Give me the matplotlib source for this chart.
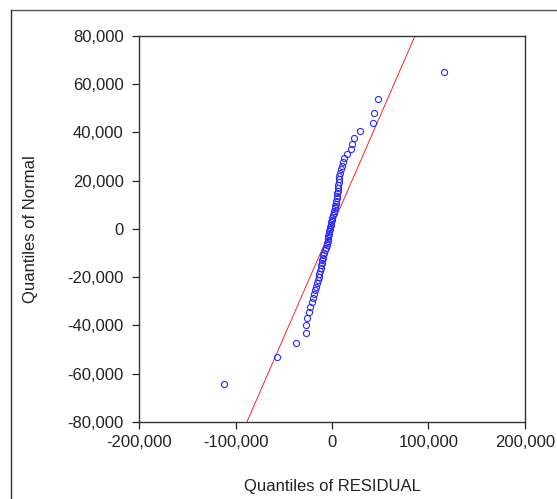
import matplotlib
matplotlib.use("Agg")
import matplotlib.pyplot as plt
from matplotlib.lines import Line2D
from matplotlib.ticker import FuncFormatter

plt.rcParams['font.family'] = ['Liberation Sans', 'DejaVu Sans']

# sorted residuals (x) and matching normal quantiles (y)
residual_q = [
    -111600, -57300, -37600, -27000, -26700, -25800, -24000, -22800, -21000, -19400,
    -18500, -17500, -16600, -15900, -14900, -13900, -13000, -12400, -11800, -11000,
    -10700, -10000, -9500, -9000, -8200, -7500, -6200, -5500, -5000, -4600,
    -4300, -3900, -3200, -2700, -2200, -1700, -1100, -700, -300, 300,
    900, 1600, 2300, 3100, 3600, 4100, 4500, 4800, 5200, 5500,
    5800, 6100, 6400, 6800, 7200, 7700, 8300, 9000, 10000, 11000,
    12000, 16000, 19500, 21000, 22500, 29000, 42800, 43500, 47300, 116400,
]
normal_q = [
    -64280, -53060, -47200, -43030, -39730, -36960, -34530, -32390, -30440, -28610,
    -26950, -25390, -23910, -22490, -21170, -19850, -18610, -17390, -16230, -15100,
    -13990, -12910, -11850, -10790, -9760, -8760, -7760, -6780, -5800, -4830,
    -3880, -2930, -1980, -1030, -75, 875, 1830, 2780, 3730, 4680,
    5630, 6600, 7580, 8560, 9560, 10560, 11590, 12650, 13710, 14790,
    15900, 17030, 18190, 19410, 20650, 21970, 23290, 24710, 26190, 27750,
    29410, 31240, 33190, 35330, 37760, 40530, 43830, 48000, 53860, 65080,
]

# reference line endpoints
ref_x = [-88200, 86000]
ref_y = [-80000, 80000]

xticks = [-200000, -100000, 0, 100000, 200000]
yticks = [-80000, -60000, -40000, -20000, 0, 20000, 40000, 60000, 80000]

fig = plt.figure(figsize=(5.57, 4.99), dpi=100)
ax = fig.add_axes([0.2496, 0.1543, 0.6929, 0.7736])

ax.plot(ref_x, ref_y, color='red', lw=0.6, zorder=2)
ax.plot(residual_q, normal_q, linestyle='none', marker='o', markersize=4.4,
        markerfacecolor='none', markeredgecolor='#2a2aff', markeredgewidth=0.8, zorder=3)

ax.set_xlim(-200000, 200000)
ax.set_ylim(-80000, 80000)
ax.set_xticks(xticks)
ax.set_yticks(yticks)
fmt = FuncFormatter(lambda v, p: f"{int(v):,}")
ax.xaxis.set_major_formatter(fmt)
ax.yaxis.set_major_formatter(fmt)
ax.tick_params(direction='out', length=5, width=0.9, labelsize=12, colors='#222222')
ax.tick_params(axis='y', pad=6)
ax.tick_params(axis='x', pad=4)
for s in ax.spines.values():
    s.set_color('#333333')
    s.set_linewidth(1.0)

ax.set_xlabel("Quantiles of RESIDUAL", fontsize=12, color='#222222', labelpad=21)
ax.set_ylabel("Quantiles of Normal", fontsize=12, color='#222222', labelpad=21)

# outer frame (top and left edges)
fig.add_artist(Line2D([10.5 / 557, 1.0], [1 - 9.5 / 499] * 2, color='#555555', lw=1.0))
fig.add_artist(Line2D([10.5 / 557] * 2, [0.0, 1 - 9.5 / 499], color='#333333', lw=1.0))

fig.savefig("out.png", dpi=100)
